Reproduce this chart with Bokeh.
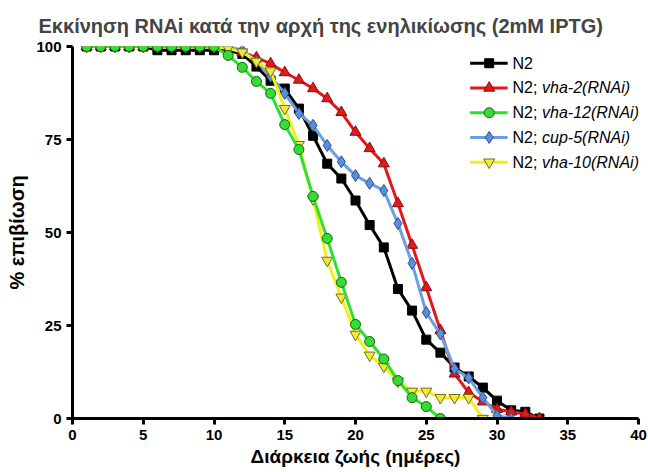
from bokeh.plotting import figure
from bokeh.models import Range1d, FixedTicker
from bokeh.core.properties import value
from bokeh.embed import file_html
from bokeh.resources import INLINE

# ---- survival data (% alive per day) ----
days_n2 = list(range(1, 34))
surv_n2 = [100, 100, 100, 100, 100, 99, 99, 99, 99, 99, 99,
           98, 94.6, 90.8, 88.7, 83.3, 76, 68.5, 64.5, 58.6, 52, 46,
           34.8, 29, 21.2, 17.7, 13.7, 11.3, 8.3, 4.8, 2.2, 1.8, 0]

days_vha2 = list(range(1, 34))
surv_vha2 = [100, 100, 100, 100, 100, 100, 100, 100, 100, 100, 100,
             98.5, 97, 95.4, 93, 91, 88.7, 86, 82.3, 77, 72.6, 68.5,
             57.8, 46.6, 35.2, 23.7, 12, 7, 4.5, 2.5, 1.8, 1.2, 0]

days_vha12 = list(range(1, 27))
surv_vha12 = [100, 100, 100, 100, 100, 100, 100, 100, 100, 100,
              97.6, 94.4, 90.6, 87.4, 79, 72.3, 59.7, 48.4, 36.6, 25.3,
              20.7, 16, 10.2, 5.6, 3.2, 0]

days_cup5 = list(range(1, 32))
surv_cup5 = [100, 100, 100, 100, 100, 100, 100, 100, 100, 100, 100,
             99, 96, 92, 87.4, 82, 78.8, 73.4, 69, 65.3, 63.2, 61.3,
             52.4, 41.7, 28.5, 22.7, 13.4, 10.9, 5.6, 0.8, 0]

days_vha10 = list(range(1, 30))
surv_vha10 = [100, 100, 100, 100, 100, 100, 100, 100, 100, 100,
              99.5, 98.5, 96, 93.4, 83.3, 73.6, 59, 42.5, 32.6, 22.6,
              17, 14, 10, 7.3, 7.3, 5.6, 5.6, 5.6, 0]

x_ticks = [0, 5, 10, 15, 20, 25, 30, 35, 40]
y_ticks = [0, 25, 50, 75, 100]

legend_prefix = ["N2", "N2; ", "N2; ", "N2; ", "N2; "]
legend_italic = ["", "vha-2(RNAi)", "vha-12(RNAi)", "cup-5(RNAi)", "vha-10(RNAi)"]

FONT = "Liberation Sans"

# (days, survival, line colour, marker, marker size, fill, outline)
series = [
    (days_n2, surv_n2, "#000000", "square", 9, "#000000", "#000000"),
    (days_vha2, surv_vha2, "#e3171e", "triangle", 11, "#e01a1a", "#8a0a0a"),
    (days_cup5, surv_cup5, "#6a9fe0", "diamond", 12, "#5b8fd9", "#2a4f8f"),
    (days_vha10, surv_vha10, "#f2ee1a", "inverted_triangle", 11, "#f0e840", "#7a6a10"),
    (days_vha12, surv_vha12, "#2fe02f", "circle", 10, "#33dd33", "#116611"),
]
legend_order = [0, 1, 4, 2, 3]

p = figure(width=648, height=472,
           x_range=Range1d(0, 40), y_range=Range1d(0, 100),
           output_backend="svg", toolbar_location=None,
           min_border_left=72, min_border_right=10,
           min_border_top=46, min_border_bottom=54)
p.outline_line_color = None
p.grid.visible = False
p.background_fill_color = "white"

p.title.text = "Εκκίνηση RNAi κατά την αρχή της ενηλικίωσης (2mM IPTG)"
p.title.align = "left"
p.title.offset = -34
p.title.standoff = 20
p.title.text_font = FONT
p.title.text_font_size = "20px"
p.title.text_font_style = "bold"

for ax in (p.xaxis[0], p.yaxis[0]):
    ax.axis_line_width = 3
    ax.major_tick_line_width = 3
    ax.major_tick_out = 6
    ax.major_tick_in = 0
    ax.minor_tick_line_color = None
    ax.major_label_text_font = FONT
    ax.major_label_text_font_size = "15px"
    ax.major_label_text_font_style = "bold"
    ax.major_label_text_color = "black"
    ax.axis_label_text_font = FONT
    ax.axis_label_text_font_style = "bold"
    ax.axis_label_text_color = "black"

p.xaxis.axis_label_text_font_size = "19px"
p.yaxis.axis_label_text_font_size = "20px"
p.xaxis.axis_label_standoff = 3
p.yaxis.axis_label_standoff = 5
p.xaxis.ticker = FixedTicker(ticks=x_ticks)
p.yaxis.ticker = FixedTicker(ticks=y_ticks)
p.xaxis.axis_label = "Διάρκεια ζωής (ημέρες)"
p.yaxis.axis_label = "% επιβίωση"

for d, s, lc, mk, ms, fc, oc in series:
    p.line(d, s, line_color=lc, line_width=3)
    p.scatter(d, s, marker=mk, size=ms, fill_color=fc, line_color=oc, line_width=1)

# legend block, drawn in data space at the top right
LEG_X0, LEG_X1, LEG_MX, LEG_TX = 28.1, 30.75, 29.45, 31.1
LEG_Y0, LEG_DY = 95.5, 6.65
for row, idx in enumerate(legend_order):
    d, s, lc, mk, ms, fc, oc = series[idx]
    y = LEG_Y0 - row * LEG_DY
    p.line([LEG_X0, LEG_X1], [y, y], line_color=lc, line_width=3)
    p.scatter([LEG_MX], [y], marker=mk, size=ms, fill_color=fc, line_color=oc, line_width=1)
    p.text([LEG_TX], [y], text=[legend_prefix[row]], text_font=value(FONT),
           text_font_size="16px", text_baseline="middle", text_align="left",
           text_color="black")
    if legend_italic[row]:
        p.text([LEG_TX], [y], text=[legend_italic[row]], text_font=value(FONT),
               text_font_size="16px", text_font_style="italic",
               text_baseline="middle", text_align="left", text_color="black",
               x_offset=29.5)

open("out.html", "w").write(file_html(p, INLINE))
